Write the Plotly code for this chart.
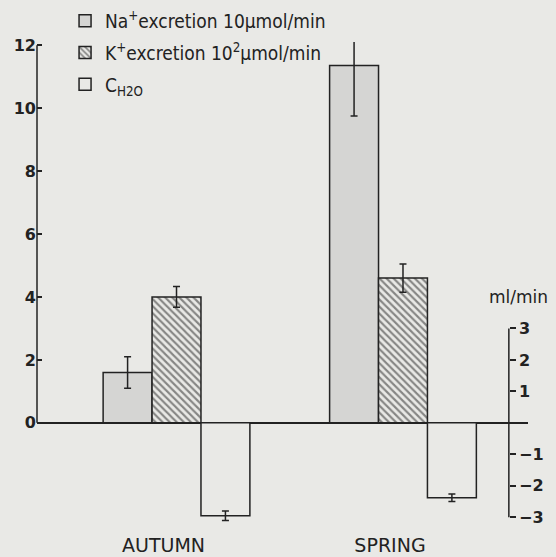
import plotly.graph_objects as go

seasons = ["AUTUMN", "SPRING"]
na_values = [1.6, 11.35]
na_err = [0.5, 1.6]
k_values = [4.0, 4.6]
k_err = [0.33, 0.45]
ch2o_values = [-2.95, -2.38]
ch2o_err = [0.15, 0.12]

left_ticks = [0, 2, 4, 6, 8, 10, 12]
right_ticks = [-3, -2, -1, 1, 2, 3]
right_ticktext = ["\u22123", "\u22122", "\u22121", "1", "2", "3"]

names = ["Na<sup>+</sup>excretion 10\u03bcmol/min",
         "K<sup>+</sup>excretion 10<sup>2</sup>\u03bcmol/min",
         "C<sub>H2O</sub>"]

BG = "#e9e9e6"
NA_FILL = "#d5d5d3"
FONT = "DejaVu Sans"
LEG_FONT = "DejaVu Sans Condensed, Liberation Sans Narrow, DejaVu Sans"

W = 0.216
err_style = dict(type="data", visible=True, color="#222", thickness=1.5, width=3.5)

fig = go.Figure()
fig.add_trace(go.Bar(
    x=seasons, y=na_values, name=names[0], width=W, offset=-1.5 * W, legendgroup="na",
    marker=dict(color=NA_FILL, line=dict(color="#222", width=1.5)),
    error_y=dict(array=na_err, **err_style)))
fig.add_trace(go.Bar(
    x=seasons, y=k_values, name=names[1], width=W, offset=-0.5 * W, legendgroup="k",
    marker=dict(color=BG, line=dict(color="#222", width=1.5),
                pattern=dict(shape="\\", size=5, solidity=0.42, fgcolor="#222", bgcolor=BG)),
    error_y=dict(array=k_err, **err_style)))
fig.add_trace(go.Bar(
    x=seasons, y=ch2o_values, name=names[2], width=W, offset=0.5 * W, yaxis="y2",
    legendgroup="w",
    marker=dict(color=BG, line=dict(color="#222", width=1.5)),
    error_y=dict(array=ch2o_err, **err_style)))

yr = [-3.15, 12.1]
right_pos = 0.961

fig.update_layout(
    width=556, height=557,
    margin=dict(l=37, r=28, t=42, b=35, autoexpand=False),
    paper_bgcolor=BG, plot_bgcolor=BG,
    font=dict(family=FONT, color="#222"),
    barmode="overlay",
    hovermode=False,
    showlegend=True,
    legend=dict(xref="container", yref="container", x=0.117, y=1 - 2 / 557,
                xanchor="left", yanchor="top", bgcolor="rgba(0,0,0,0)", borderwidth=0,
                tracegroupgap=4, traceorder="grouped",
                font=dict(size=19, color="#222", family=LEG_FONT)),
    xaxis=dict(range=[-0.616, 1.552], showgrid=False, zeroline=False, showline=False,
               ticks="", tickfont=dict(size=19, color="#222"), ticklabelshift=-13,
               ticklabelstandoff=10),
    yaxis=dict(range=yr, tickvals=left_ticks, showgrid=False, zeroline=True,
               zerolinecolor="#222", zerolinewidth=1.5, showline=False,
               ticks="inside", ticklen=5, tickwidth=1.5, tickcolor="#222",
               tickfont=dict(size=16, color="#222", weight="bold")),
    yaxis2=dict(range=yr, overlaying="y", side="right", anchor="free", position=right_pos,
                tickvals=right_ticks, ticktext=right_ticktext, showgrid=False, zeroline=False,
                showline=False, ticks="outside", ticklen=6, tickwidth=1.5, tickcolor="#222",
                tickfont=dict(size=16, color="#222", weight="bold")),
    shapes=[
        dict(type="line", xref="paper", yref="y", x0=0, x1=0,
             y0=min(left_ticks), y1=max(left_ticks), line=dict(color="#222", width=1.5)),
        dict(type="line", xref="paper", yref="y2", x0=right_pos, x1=right_pos,
             y0=min(right_ticks), y1=max(right_ticks), line=dict(color="#222", width=1.5)),
    ],
    annotations=[dict(text="ml/min", xref="paper", yref="y2", x=right_pos + 0.02,
                      y=max(right_ticks) + 1.0, showarrow=False, xanchor="center",
                      font=dict(size=17, color="#222"))],
)

fig.write_html("out.html", config={"displayModeBar": False},
               post_script="document.body.style.margin='0';")
